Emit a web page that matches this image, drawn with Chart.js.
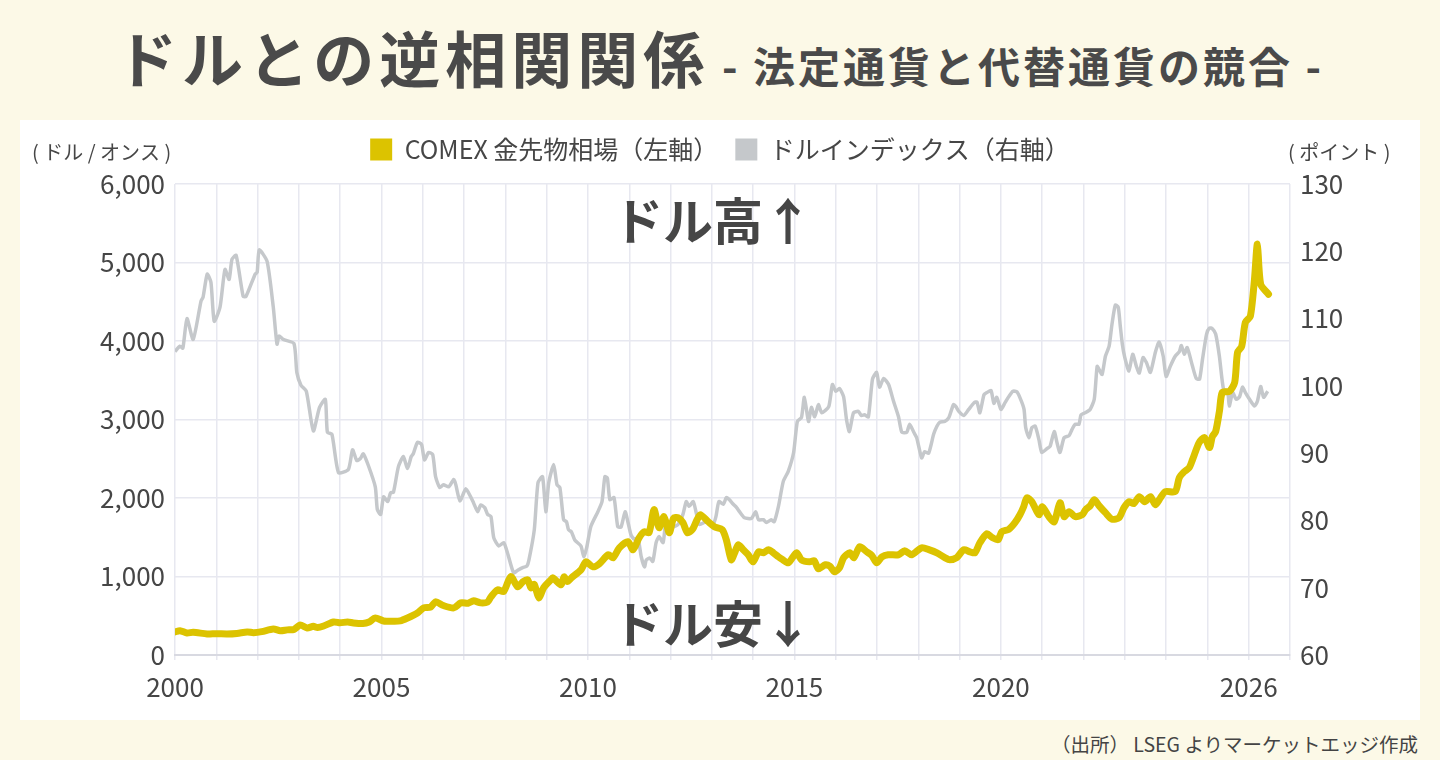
<!DOCTYPE html>
<html lang="ja">
<head>
<meta charset="utf-8">
<title>ドルとの逆相関関係</title>
<script src="https://cdn.jsdelivr.net/npm/chart.js@4.4.1/dist/chart.umd.min.js"></script>
<style>
  html, body { margin: 0; padding: 0; }
  body {
    width: 1440px; height: 760px; overflow: hidden;
    background: #fcf9e7;
    font-family: "Noto Sans CJK JP", "Noto Sans", sans-serif;
    color: #4a4a4a;
    position: relative;
  }
  #title {
    position: absolute; left: 0; top: 12px; width: 1440px;
    text-align: center; font-weight: 700; white-space: nowrap;
  }
  #title .main { font-size: 61px; letter-spacing: 5px; }
  #title .sub { font-size: 42px; letter-spacing: 3px; }
  #panel {
    position: absolute; left: 20px; top: 120px; width: 1400px; height: 600px;
    background: #ffffff;
  }
  #source {
    position: absolute; right: 22px; top: 729px;
    font-size: 19.5px; color: #444;
  }
</style>
</head>
<body>
<div id="title"><span class="main">ドルとの逆相関関係</span><span class="sub"> - 法定通貨と代替通貨の競合 -</span></div>
<div id="panel"><canvas id="dollarGoldChart"></canvas></div>
<div id="source">（出所） LSEG よりマーケットエッジ作成</div>
<script>
// COMEX gold futures (USD/oz)
const goldDates = [
  2000.00, 2000.12, 2000.29, 2000.44, 2000.78, 2001.00, 2001.26, 2001.50, 2001.75, 2001.90,
  2002.10, 2002.38, 2002.55, 2002.72, 2002.88, 2003.03, 2003.20, 2003.35, 2003.45, 2003.60,
  2003.84, 2004.00, 2004.18, 2004.32, 2004.55, 2004.70, 2004.85, 2005.05, 2005.30, 2005.45,
  2005.63, 2005.87, 2006.02, 2006.19, 2006.31, 2006.50, 2006.75, 2006.92, 2007.10, 2007.23,
  2007.40, 2007.57, 2007.65, 2007.81, 2007.96, 2008.13, 2008.30, 2008.42, 2008.54, 2008.62,
  2008.70, 2008.81, 2008.93, 2009.10, 2009.15, 2009.35, 2009.42, 2009.50, 2009.60, 2009.83,
  2009.95, 2010.12, 2010.27, 2010.49, 2010.61, 2010.76, 2010.97, 2011.09, 2011.24, 2011.36,
  2011.48, 2011.60, 2011.72, 2011.84, 2011.97, 2012.07, 2012.18, 2012.30, 2012.41, 2012.53,
  2012.62, 2012.72, 2012.91, 2013.06, 2013.25, 2013.35, 2013.47, 2013.55, 2013.64, 2013.76,
  2013.88, 2014.00, 2014.13, 2014.25, 2014.37, 2014.49, 2014.61, 2014.70, 2014.85, 2015.05,
  2015.17, 2015.37, 2015.48, 2015.58, 2015.75, 2015.86, 2015.97, 2016.09, 2016.19, 2016.34,
  2016.44, 2016.58, 2016.75, 2016.87, 2016.99, 2017.12, 2017.27, 2017.52, 2017.67, 2017.84,
  2018.08, 2018.27, 2018.45, 2018.64, 2018.76, 2018.93, 2019.10, 2019.25, 2019.37, 2019.49,
  2019.66, 2019.78, 2019.93, 2020.02, 2020.19, 2020.34, 2020.46, 2020.55, 2020.63, 2020.75,
  2020.92, 2021.00, 2021.16, 2021.29, 2021.43, 2021.53, 2021.65, 2021.80, 2021.97, 2022.05,
  2022.16, 2022.26, 2022.38, 2022.53, 2022.69, 2022.86, 2022.98, 2023.10, 2023.22, 2023.35,
  2023.48, 2023.62, 2023.74, 2023.86, 2023.98, 2024.22, 2024.32, 2024.44, 2024.56, 2024.64,
  2024.80, 2024.93, 2025.05, 2025.12, 2025.20, 2025.29, 2025.36, 2025.53, 2025.66, 2025.73,
  2025.83, 2025.92, 2026.04, 2026.14, 2026.21, 2026.29, 2026.48
];
const goldValues = [
  294, 310, 281, 290, 268, 272, 268, 275, 294, 285,
  298, 332, 310, 320, 325, 383, 345, 365, 350, 370,
  421, 410, 421, 408, 400, 420, 472, 434, 430, 434,
  472, 536, 600, 610, 677, 630, 600, 664, 660, 690,
  664, 675, 740, 830, 810, 1000, 868, 932, 957, 855,
  900, 728, 860, 957, 983, 894, 996, 935, 983, 1085,
  1187, 1123, 1160, 1277, 1240, 1366, 1443, 1340, 1494, 1570,
  1560, 1851, 1621, 1762, 1557, 1740, 1749, 1685, 1557, 1600,
  1698, 1787, 1698, 1634, 1596, 1468, 1213, 1300, 1404, 1340,
  1277, 1187, 1315, 1302, 1340, 1302, 1251, 1220, 1174, 1302,
  1213, 1187, 1200, 1098, 1150, 1130, 1060, 1110, 1238, 1302,
  1240, 1379, 1315, 1270, 1174, 1250, 1277, 1277, 1328, 1277,
  1366, 1340, 1302, 1240, 1213, 1240, 1340, 1315, 1302, 1430,
  1545, 1500, 1468, 1570, 1600, 1685, 1787, 1889, 2004, 1953,
  1787, 1889, 1762, 1698, 1940, 1762, 1826, 1762, 1787, 1851,
  1900, 1979, 1900, 1813, 1730, 1749, 1877, 1953, 1930, 2017,
  1953, 2017, 1915, 2000, 2081, 2081, 2260, 2336, 2387, 2489,
  2706, 2770, 2642, 2783, 2847, 3102, 3345, 3357, 3472, 3855,
  3932, 4238, 4315, 4787, 5234, 4723, 4596
];

// Dollar index (points)
const dxyDates = [
  2000.00, 2000.12, 2000.19, 2000.29, 2000.44, 2000.63, 2000.68, 2000.78, 2000.87, 2000.95,
  2001.09, 2001.21, 2001.31, 2001.38, 2001.48, 2001.65, 2001.72, 2001.94, 2001.99, 2002.04,
  2002.23, 2002.38, 2002.47, 2002.52, 2002.62, 2002.88, 2002.95, 2003.05, 2003.18, 2003.35,
  2003.50, 2003.64, 2003.69, 2003.80, 2003.96, 2004.20, 2004.30, 2004.40, 2004.49, 2004.56,
  2004.68, 2004.85, 2004.90, 2004.98, 2005.05, 2005.15, 2005.22, 2005.29, 2005.41, 2005.53,
  2005.63, 2005.72, 2005.77, 2005.87, 2005.97, 2006.04, 2006.14, 2006.24, 2006.31, 2006.41,
  2006.50, 2006.63, 2006.75, 2006.80, 2006.90, 2007.04, 2007.16, 2007.23, 2007.33, 2007.40,
  2007.50, 2007.57, 2007.65, 2007.72, 2007.84, 2007.96, 2008.05, 2008.20, 2008.30, 2008.42,
  2008.52, 2008.57, 2008.70, 2008.79, 2008.90, 2008.98, 2009.05, 2009.17, 2009.25, 2009.32,
  2009.41, 2009.48, 2009.53, 2009.60, 2009.68, 2009.83, 2009.90, 2009.97, 2010.07, 2010.24,
  2010.34, 2010.41, 2010.47, 2010.53, 2010.63, 2010.72, 2010.80, 2010.90, 2010.97, 2011.04,
  2011.12, 2011.21, 2011.29, 2011.37, 2011.41, 2011.50, 2011.57, 2011.65, 2011.72, 2011.82,
  2011.89, 2011.97, 2012.06, 2012.18, 2012.30, 2012.38, 2012.45, 2012.55, 2012.63, 2012.70,
  2012.82, 2012.91, 2013.03, 2013.10, 2013.17, 2013.28, 2013.35, 2013.42, 2013.52, 2013.60,
  2013.67, 2013.79, 2013.96, 2014.06, 2014.13, 2014.25, 2014.32, 2014.44, 2014.51, 2014.61,
  2014.73, 2014.85, 2014.98, 2015.07, 2015.17, 2015.24, 2015.34, 2015.41, 2015.49, 2015.58,
  2015.66, 2015.83, 2015.92, 2016.00, 2016.09, 2016.19, 2016.26, 2016.33, 2016.43, 2016.55,
  2016.62, 2016.70, 2016.79, 2016.89, 2016.99, 2017.06, 2017.16, 2017.28, 2017.40, 2017.52,
  2017.60, 2017.72, 2017.79, 2017.89, 2017.96, 2018.08, 2018.15, 2018.25, 2018.37, 2018.45,
  2018.52, 2018.64, 2018.74, 2018.85, 2018.91, 2018.98, 2019.10, 2019.22, 2019.35, 2019.42,
  2019.49, 2019.59, 2019.66, 2019.76, 2019.83, 2019.90, 2020.00, 2020.10, 2020.19, 2020.29,
  2020.39, 2020.49, 2020.56, 2020.60, 2020.68, 2020.75, 2020.83, 2020.92, 2020.99, 2021.12,
  2021.19, 2021.29, 2021.36, 2021.43, 2021.53, 2021.65, 2021.72, 2021.80, 2021.89, 2021.94,
  2022.04, 2022.16, 2022.26, 2022.33, 2022.38, 2022.45, 2022.53, 2022.62, 2022.69, 2022.77,
  2022.84, 2022.89, 2022.94, 2023.00, 2023.10, 2023.19, 2023.28, 2023.35, 2023.44, 2023.52,
  2023.62, 2023.74, 2023.83, 2023.93, 2024.00, 2024.10, 2024.22, 2024.32, 2024.37, 2024.44,
  2024.51, 2024.64, 2024.73, 2024.81, 2024.88, 2024.98, 2025.05, 2025.12, 2025.20, 2025.29,
  2025.39, 2025.49, 2025.53, 2025.61, 2025.70, 2025.78, 2025.85, 2025.92, 2026.02, 2026.14,
  2026.21, 2026.29, 2026.36, 2026.46
];
const dxyValues = [
  105.1, 105.9, 105.6, 110.0, 106.9, 112.6, 113.2, 116.6, 115.4, 109.6,
  111.7, 117.3, 115.8, 118.8, 119.4, 113.3, 113.3, 116.6, 116.9, 120.2,
  118.5, 111.7, 106.2, 107.4, 106.9, 106.3, 102.0, 100.1, 99.2, 93.3,
  96.8, 98.0, 93.1, 92.8, 87.1, 87.6, 90.5, 88.9, 89.2, 89.9,
  88.2, 85.0, 81.6, 80.9, 83.5, 82.8, 84.1, 84.2, 88.0, 89.5,
  87.7, 89.5, 89.9, 91.6, 91.3, 89.0, 90.1, 89.8, 86.5, 84.9,
  85.3, 85.0, 86.1, 85.3, 82.9, 84.7, 83.5, 82.6, 81.3, 82.3,
  81.9, 80.9, 80.6, 77.4, 76.2, 76.7, 75.2, 72.2, 72.6, 73.0,
  73.2, 74.1, 78.6, 85.6, 86.5, 81.3, 85.6, 88.3, 85.3, 84.9,
  80.1, 79.8, 78.6, 78.3, 77.1, 76.2, 74.6, 76.0, 79.1, 81.3,
  82.8, 86.5, 86.3, 83.1, 83.4, 79.1, 79.0, 81.3, 79.7, 77.9,
  77.2, 77.4, 74.6, 73.1, 74.1, 74.4, 73.9, 76.7, 77.6, 76.7,
  80.1, 79.2, 79.0, 79.4, 80.9, 82.8, 82.1, 82.8, 80.9, 79.4,
  79.7, 79.8, 79.4, 80.6, 82.8, 82.4, 83.4, 83.1, 82.4, 81.9,
  81.3, 80.4, 80.3, 81.3, 80.1, 80.1, 79.7, 80.1, 79.8, 82.0,
  85.8, 87.3, 90.1, 94.7, 95.3, 98.3, 94.7, 96.8, 95.4, 97.2,
  96.0, 96.9, 100.2, 99.2, 99.6, 98.4, 95.0, 93.2, 96.0, 96.2,
  95.6, 95.7, 95.4, 101.0, 102.0, 99.8, 101.1, 100.2, 97.7, 95.4,
  93.1, 93.1, 94.3, 93.1, 92.3, 89.3, 90.2, 90.0, 92.8, 94.0,
  94.6, 94.7, 95.3, 97.2, 96.9, 96.2, 95.6, 96.5, 97.5, 97.6,
  96.0, 98.7, 99.0, 99.3, 97.4, 98.3, 96.5, 97.5, 98.4, 99.2,
  99.1, 97.8, 96.5, 93.8, 92.3, 93.8, 94.0, 92.0, 90.1, 90.7,
  91.0, 93.2, 91.5, 90.1, 92.3, 92.6, 93.5, 94.3, 94.3, 95.7,
  96.0, 96.5, 98.0, 102.9, 102.4, 101.7, 104.4, 105.9, 109.2, 112.0,
  111.7, 108.9, 106.2, 104.2, 102.2, 104.7, 102.9, 101.9, 104.2, 103.5,
  102.0, 105.0, 106.5, 104.4, 101.4, 102.9, 104.4, 105.1, 106.0, 104.7,
  105.7, 102.9, 101.1, 101.0, 103.9, 107.7, 108.6, 108.5, 107.7, 104.4,
  99.5, 99.2, 97.0, 99.0, 98.0, 98.4, 99.8, 99.0, 98.0, 97.0,
  97.7, 99.9, 98.3, 99.2
];

const xTickLabels = [2000, 2005, 2010, 2015, 2020, 2026];
const goldTicks = [0, 1000, 2000, 3000, 4000, 5000, 6000];
const dxyTicks = [60, 70, 80, 90, 100, 110, 120, 130];

const GOLD = '#dcc300';
const GREY = '#c5c8cb';
const TEXT = '#464646';
const GRID = '#e7e8f0';
const FONT = '"Noto Sans CJK JP", "Noto Sans", sans-serif';

// leave some room between the legend row and the plot
const legendGap = {
  id: 'legendGap',
  beforeLayout(chart) {
    const lg = chart.legend;
    if (lg && !lg._gapPatched) {
      const fit = lg.fit;
      lg.fit = function () { fit.call(this); this.height += 12; };
      lg._gapPatched = true;
    }
  }
};

// labels drawn on top of the plot: axis units and the ドル高/ドル安 captions
const annotations = {
  id: 'annotations',
  afterDraw(chart) {
    const { ctx, chartArea } = chart;
    ctx.save();
    ctx.fillStyle = TEXT;
    ctx.textBaseline = 'middle';
    ctx.font = '20px ' + FONT;
    ctx.textAlign = 'left';
    ctx.fillText('( ドル / オンス )', 12, 32);
    ctx.fillText('( ポイント )', chartArea.right - 2, 32);

    ctx.font = 'bold 50px ' + FONT;
    ctx.textAlign = 'center';
    const cx = chartArea.left + 538;
    ctx.fillText('ドル高↑', cx, chartArea.top + 37);
    ctx.fillText('ドル安↓', cx, chartArea.top + 440);
    ctx.restore();
  }
};

const ctx = document.getElementById('dollarGoldChart').getContext('2d');
new Chart(ctx, {
  type: 'line',
  data: {
    datasets: [
      {
        label: 'COMEX 金先物相場（左軸）',
        data: goldDates.map((d, i) => ({ x: d, y: goldValues[i] })),
        borderColor: GOLD,
        backgroundColor: GOLD,
        borderWidth: 7,
        borderJoinStyle: 'round',
        borderCapStyle: 'round',
        tension: 0.25,
        pointRadius: 0,
        yAxisID: 'yGold',
        order: 0
      },
      {
        label: 'ドルインデックス（右軸）',
        data: dxyDates.map((d, i) => ({ x: d, y: dxyValues[i] })),
        borderColor: GREY,
        backgroundColor: GREY,
        borderWidth: 3.5,
        borderJoinStyle: 'round',
        tension: 0.2,
        pointRadius: 0,
        yAxisID: 'yDxy',
        order: 1
      }
    ]
  },
  options: {
    responsive: true,
    maintainAspectRatio: false,
    animation: false,
    layout: { padding: { top: 0, left: 0, right: 0, bottom: 0 } },
    plugins: {
      tooltip: { enabled: false },
      legend: {
        position: 'top',
        labels: {
          boxWidth: 22,
          boxHeight: 22,
          padding: 17,
          color: TEXT,
          font: { family: FONT, size: 25 },
          generateLabels: (chart) => chart.data.datasets.map((ds, i) => ({
            text: ds.label,
            fillStyle: ds.borderColor,
            strokeStyle: ds.borderColor,
            lineWidth: 0,
            fontColor: TEXT,
            hidden: false,
            datasetIndex: i
          }))
        }
      }
    },
    scales: {
      x: {
        type: 'linear',
        min: 2000,
        max: 2027,
        afterFit: (scale) => { scale.height = 65; },
        afterBuildTicks: (scale) => {
          const ticks = [];
          for (let v = 2000; v <= 2027; v++) ticks.push({ value: v });
          scale.ticks = ticks;
        },
        ticks: {
          autoSkip: false,
          maxRotation: 0,
          padding: 12,
          color: TEXT,
          font: { family: FONT, size: 26 },
          callback: (v) => xTickLabels.includes(v) ? String(v) : ''
        },
        grid: { color: GRID, lineWidth: 1.5, tickLength: 5 },
        border: { color: '#d8d9e1', width: 2 }
      },
      yGold: {
        position: 'left',
        min: 0,
        max: 6000,
        afterFit: (scale) => { scale.width = 155; },
        afterBuildTicks: (scale) => { scale.ticks = goldTicks.map(v => ({ value: v })); },
        ticks: {
          padding: 10,
          color: TEXT,
          font: { family: FONT, size: 26 },
          callback: (v) => v.toLocaleString('en-US')
        },
        grid: { color: GRID, lineWidth: 1.5, drawTicks: false },
        border: { display: false }
      },
      yDxy: {
        position: 'right',
        min: 60,
        max: 130,
        afterFit: (scale) => { scale.width = 130; },
        afterBuildTicks: (scale) => { scale.ticks = dxyTicks.map(v => ({ value: v })); },
        ticks: {
          padding: 10,
          color: TEXT,
          font: { family: FONT, size: 26 }
        },
        grid: { drawOnChartArea: false, drawTicks: false },
        border: { display: false }
      }
    }
  },
  plugins: [legendGap, annotations]
});
</script>
</body>
</html>
